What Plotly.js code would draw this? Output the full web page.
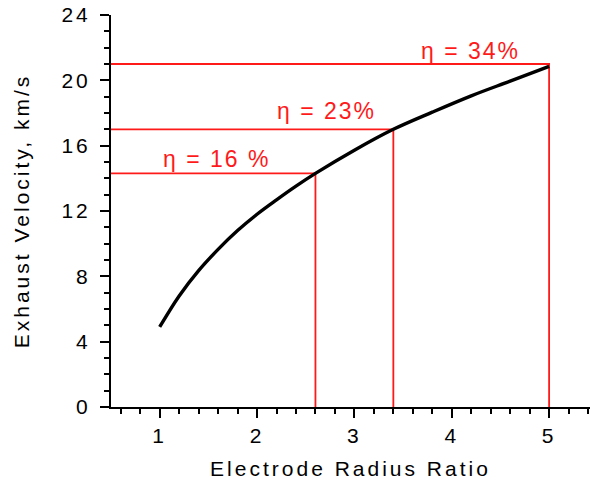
<!DOCTYPE html>
<html>
<head>
<meta charset="utf-8">
<script src="https://cdn.plot.ly/plotly-3.0.1.min.js"></script>
<style>
html, body { margin: 0; padding: 0; overflow: hidden; background: #fff; }
#chart { width: 590px; height: 486px; }
.xtitle, .ytitle { letter-spacing: 3px; }
.xtick text, .ytick text { letter-spacing: 3px; }
.annotation-text { letter-spacing: 2px; }
</style>
</head>
<body>
<div id="chart"></div>
<script>
// Curve: exhaust velocity vs electrode radius ratio
const radiusRatio = [1.0, 1.2, 1.4, 1.6, 1.8, 2.0, 2.2, 2.4, 2.6, 3.0, 3.4, 3.8, 4.2, 4.6, 5.0];
const exhaustVelocity = [4.9, 6.8, 8.35, 9.65, 10.8, 11.8, 12.68, 13.52, 14.3, 15.72, 17.0, 18.05, 19.05, 19.95, 20.85];

// Marked operating points
const markRatio = [2.6, 3.4, 5.0];
const markVelocity = [14.3, 17.0, 21.0];
const markLabels = ["η = 16 %", "η = 23%", "η = 34%"];

// Tick values
const xTickVals = [1, 2, 3, 4, 5];
const yTickVals = [0, 4, 8, 12, 16, 20, 24];

// Layout placement of the labels (not data)
const labelX = [1.58, 2.71, 4.19];
const labelY = [15.2, 18.1, 21.8];

const xRange = [0.5, 5.42];
const yRange = [0, 24];
const red = '#ff1a1a';
const font = 'Liberation Sans, Arial, sans-serif';

const traces = [];
markRatio.forEach((mx, i) => {
  traces.push({
    x: [xRange[0], mx, mx],
    y: [markVelocity[i], markVelocity[i], yRange[0]],
    mode: 'lines',
    line: { color: red, width: 1.8 },
    hoverinfo: 'skip',
    showlegend: false
  });
});
traces.push({
  x: radiusRatio,
  y: exhaustVelocity,
  mode: 'lines',
  line: { color: '#000', width: 3.4, shape: 'spline', smoothing: 1 },
  showlegend: false
});

const annotations = markLabels.map((t, i) => ({
  x: labelX[i], y: labelY[i], xref: 'x', yref: 'y',
  text: t, showarrow: false, xanchor: 'center', yanchor: 'middle',
  font: { family: font, size: 23, color: red }
}));

const layout = {
  width: 590, height: 486,
  margin: { l: 111, r: 0, t: 15, b: 79 },
  paper_bgcolor: '#fff', plot_bgcolor: '#fff',
  font: { family: font, size: 21, color: '#000' },
  showlegend: false,
  xaxis: {
    range: xRange, tickvals: xTickVals, ticktext: xTickVals.map(String),
    showgrid: false, zeroline: false,
    showline: true, linecolor: '#000', linewidth: 2,
    ticks: 'outside', ticklen: 9, tickwidth: 2, tickcolor: '#000',
    ticklabelstandoff: 0,
    minor: { dtick: 0.2, tick0: 0, ticks: 'outside', ticklen: 5, tickwidth: 2, tickcolor: '#000', showgrid: false },
    tickfont: { family: font, size: 21, color: '#000' },
    title: { text: 'Electrode Radius Ratio', font: { family: font, size: 21, color: '#000' }, standoff: 15 }
  },
  xaxis2: {
    range: xRange, overlaying: 'x', side: 'top', anchor: 'y',
    tickvals: xTickVals, showticklabels: false,
    showgrid: false, zeroline: false,
    showline: true, linecolor: '#000', linewidth: 2,
    ticks: 'inside', ticklen: 6, tickwidth: 2, tickcolor: '#000',
    minor: { dtick: 0.2, tick0: 0, ticks: 'inside', ticklen: 4, tickwidth: 2, tickcolor: '#000', showgrid: false }
  },
  yaxis: {
    range: yRange, tickvals: yTickVals, ticktext: yTickVals.map(String),
    showgrid: false, zeroline: false,
    showline: true, linecolor: '#000', linewidth: 2,
    ticks: 'outside', ticklen: 9, tickwidth: 2, tickcolor: '#000',
    ticklabelstandoff: 5,
    minor: { dtick: 1, tick0: 0, ticks: 'outside', ticklen: 5, tickwidth: 2, tickcolor: '#000', showgrid: false },
    tickfont: { family: font, size: 21, color: '#000' },
    title: { text: 'Exhaust Velocity, km/s', font: { family: font, size: 21, color: '#000' }, standoff: 26 }
  },
  annotations: annotations
};

Plotly.newPlot('chart', traces, layout, { staticPlot: true, displayModeBar: false });
</script>
</body>
</html>
